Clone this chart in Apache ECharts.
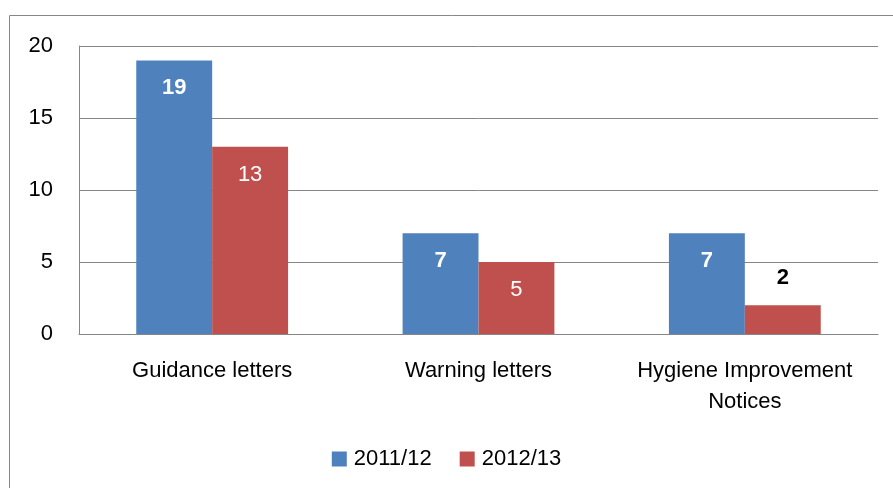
<!DOCTYPE html>
<html>
<head>
<meta charset="utf-8">
<script src="https://cdn.jsdelivr.net/npm/echarts@6/dist/echarts.min.js"></script>
<style>
  html, body { margin: 0; padding: 0; background: #fff; }
  #chart { width: 893px; height: 488px; }
</style>
</head>
<body>
<div id="chart"></div>
<script>
var categories = ['Guidance letters', 'Warning letters', 'Hygiene Improvement\nNotices'];
var seriesNames = ['2011/12', '2012/13'];
var values2011 = [19, 7, 7];
var values2012 = [13, 5, 2];
var yTicks = { min: 0, max: 20, interval: 5 };

var font = 'Liberation Sans';
var myChart = echarts.init(document.getElementById('chart'));

var option = {
    animation: false,
    textStyle: { fontFamily: font },
    graphic: [{
        type: 'rect',
        shape: { x: 9.5, y: 15.5, width: 900, height: 500 },
        style: { fill: 'none', stroke: '#888', lineWidth: 1 }
    }],
    grid: { left: 79, right: 15, top: 46, bottom: 154 },
    legend: {
        bottom: 13,
        left: 'center',
        itemWidth: 15,
        itemHeight: 15,
        itemGap: 28,
        icon: 'rect',
        textStyle: { fontSize: 22, color: '#000', fontFamily: font, padding: [0, 0, 0, 2] },
        data: seriesNames
    },
    xAxis: {
        type: 'category',
        data: categories,
        axisTick: { show: false },
        axisLine: { lineStyle: { color: '#868686' } },
        axisLabel: { color: '#000', fontSize: 22, margin: 21, lineHeight: 31, interval: 0 }
    },
    yAxis: {
        type: 'value',
        min: yTicks.min,
        max: yTicks.max,
        interval: yTicks.interval,
        axisLine: { show: true, lineStyle: { color: '#868686' } },
        axisTick: { show: false },
        splitLine: { lineStyle: { color: '#868686' } },
        axisLabel: { color: '#000', fontSize: 22, margin: 26 }
    },
    series: [
        {
            name: seriesNames[0],
            type: 'bar',
            data: values2011,
            barGap: '0%',
            barCategoryGap: '43%',
            itemStyle: { color: '#4f81bd' },
            label: {
                show: true, position: 'insideTop', distance: 17,
                color: '#fff', fontWeight: 'bold', fontSize: 22
            }
        },
        {
            name: seriesNames[1],
            type: 'bar',
            data: values2012.map(function (v, i) {
                if (i === 2) {
                    return {
                        value: v,
                        label: { position: 'top', color: '#000', fontWeight: 'bold', distance: 16 }
                    };
                }
                return v;
            }),
            itemStyle: { color: '#c0504d' },
            label: {
                show: true, position: 'insideTop', distance: 17,
                color: '#fff', fontSize: 22
            }
        }
    ]
};
myChart.setOption(option);
</script>
</body>
</html>
